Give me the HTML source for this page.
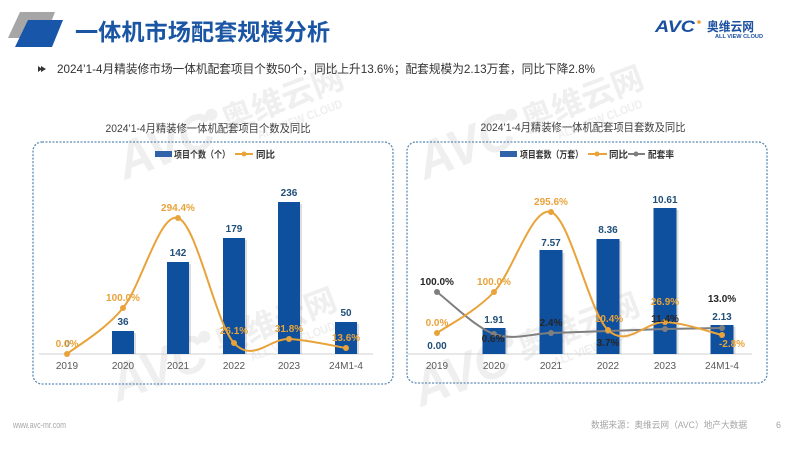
<!DOCTYPE html>
<html><head><meta charset="utf-8">
<style>
html,body{margin:0;padding:0;background:#fff;}
svg{display:block;}
text{font-family:"Liberation Sans","Noto Sans CJK SC",sans-serif;}
</style></head>
<body>
<svg width="800" height="450" viewBox="0 0 800 450" xmlns="http://www.w3.org/2000/svg">
<rect width="800" height="450" fill="#ffffff"/>

<!-- watermarks -->
<defs>
<g id="wm">
  <text x="0" y="0" font-size="52" font-weight="bold" font-style="italic" fill="#c4c4c4" textLength="100" lengthAdjust="spacingAndGlyphs">AVC</text>
  <circle cx="104" cy="-30" r="6" fill="#c4c4c4"/>
  <text x="112" y="-8" font-size="32" font-weight="bold" fill="#c4c4c4" textLength="128" lengthAdjust="spacingAndGlyphs">奥维云网</text>
  <text x="140" y="10" font-size="12" font-weight="bold" fill="#c4c4c4" textLength="90" lengthAdjust="spacingAndGlyphs">ALL VIEW CLOUD</text>
</g>
</defs>
<g opacity="0.28">
  <use href="#wm" transform="translate(125,180) rotate(-21)"/>
  <use href="#wm" transform="translate(118,402) rotate(-21)"/>
  <use href="#wm" transform="translate(425,180) rotate(-21)"/>
  <use href="#wm" transform="translate(421,407) rotate(-21)"/>
</g>

<!-- header -->
<polygon points="20,12 55,12 45,38 8,38" fill="#a6a6a6"/>
<polygon points="28,20 63,20 52,47 15,47" fill="#1756a9"/>
<text x="75" y="40" font-size="23" font-weight="bold" fill="#1b56a5" textLength="255" lengthAdjust="spacingAndGlyphs">一体机市场配套规模分析</text>

<!-- logo -->
<text x="655" y="32" font-size="17" font-weight="bold" font-style="italic" fill="#1b4fa0" textLength="40" lengthAdjust="spacingAndGlyphs">AVC</text>
<circle cx="699" cy="22" r="1.8" fill="#f0a030"/>
<text x="707" y="31" font-size="12.5" font-weight="bold" fill="#1b4fa0" textLength="47" lengthAdjust="spacingAndGlyphs">奥维云网</text>
<text x="715" y="38" font-size="5.5" font-weight="bold" fill="#1b4fa0" textLength="48" lengthAdjust="spacingAndGlyphs">ALL VIEW CLOUD</text>

<!-- bullet line -->
<polygon points="38,66 42,69 38,72" fill="#333"/>
<polygon points="41,66 46,69 41,72" fill="#333"/>
<text x="57" y="73" font-size="12" fill="#333" textLength="538" lengthAdjust="spacingAndGlyphs">2024’1-4月精装修市场一体机配套项目个数50个，同比上升13.6%；配套规模为2.13万套，同比下降2.8%</text>

<!-- ============ LEFT CHART ============ -->
<text x="208" y="132" font-size="11" fill="#404040" text-anchor="middle" textLength="205" lengthAdjust="spacingAndGlyphs">2024’1-4月精装修一体机配套项目个数及同比</text>
<rect x="33" y="142" width="360" height="242" rx="9" ry="9" fill="none" stroke="#5b8bb5" stroke-width="1.3" stroke-dasharray="2,1.5"/>

<!-- legend -->
<rect x="155" y="151" width="17" height="6" fill="#2f62a8"/>
<text x="174" y="158" font-size="9.5" font-weight="bold" fill="#333" textLength="56" lengthAdjust="spacingAndGlyphs">项目个数（个）</text>
<line x1="235" y1="154" x2="253" y2="154" stroke="#e8a33a" stroke-width="2"/>
<circle cx="244" cy="154" r="2.5" fill="#e8a33a"/>
<text x="256" y="158" font-size="9.5" font-weight="bold" fill="#333">同比</text>

<!-- axis -->
<line x1="39" y1="354" x2="373" y2="354" stroke="#d0d0d0" stroke-width="1"/>

<!-- bars -->
<g fill="#000" opacity="0.13">
  <rect x="114" y="333" width="22" height="21"/>
  <rect x="169" y="264" width="22" height="90"/>
  <rect x="225" y="240" width="22" height="114"/>
  <rect x="280" y="204" width="22" height="150"/>
  <rect x="337" y="324" width="22" height="30"/>
</g>
<g fill="#0e4f9e">
  <rect x="112" y="331" width="22" height="23"/>
  <rect x="167" y="262" width="22" height="92"/>
  <rect x="223" y="238" width="22" height="116"/>
  <rect x="278" y="202" width="22" height="152"/>
  <rect x="335" y="322" width="22" height="32"/>
</g>

<!-- category labels -->
<g font-size="10" fill="#595959" text-anchor="middle">
  <text x="67" y="369">2019</text>
  <text x="123" y="369">2020</text>
  <text x="178" y="369">2021</text>
  <text x="234" y="369">2022</text>
  <text x="289" y="369">2023</text>
  <text x="346" y="369">24M1-4</text>
</g>

<!-- bar value labels -->
<g font-size="10" font-weight="bold" fill="#1f4e79" text-anchor="middle">
  <text x="67" y="347">0</text>
  <text x="123" y="325">36</text>
  <text x="178" y="256">142</text>
  <text x="234" y="232">179</text>
  <text x="289" y="196">236</text>
  <text x="346" y="316">50</text>
</g>

<!-- orange line -->
<path d="M67,354 C76.3,346.3 104.5,330.7 123,308 C141.5,285.3 159.5,212.2 178,218 C196.5,223.8 215.5,322.8 234,343 C252.5,363.2 270.3,338.2 289,339 C307.7,339.8 336.5,346.5 346,348" fill="none" stroke="#e8a33a" stroke-width="2"/>
<g fill="#e8a33a">
  <circle cx="67" cy="354" r="3"/>
  <circle cx="123" cy="308" r="3"/>
  <circle cx="178" cy="218" r="3"/>
  <circle cx="234" cy="343" r="3"/>
  <circle cx="289" cy="339" r="3"/>
  <circle cx="346" cy="348" r="3"/>
</g>
<g font-size="10" font-weight="bold" fill="#e8a33a" text-anchor="middle">
  <text x="67" y="347">0.0%</text>
  <text x="123" y="301">100.0%</text>
  <text x="178" y="211">294.4%</text>
  <text x="234" y="334">26.1%</text>
  <text x="289" y="332">31.8%</text>
  <text x="346" y="341">13.6%</text>
</g>

<!-- ============ RIGHT CHART ============ -->
<text x="583" y="131" font-size="11" fill="#404040" text-anchor="middle" textLength="205" lengthAdjust="spacingAndGlyphs">2024’1-4月精装修一体机配套项目套数及同比</text>
<rect x="407" y="142" width="360" height="241" rx="9" ry="9" fill="none" stroke="#5b8bb5" stroke-width="1.3" stroke-dasharray="2,1.5"/>

<!-- legend -->
<rect x="500" y="151" width="17" height="6" fill="#2f62a8"/>
<text x="520" y="158" font-size="9.5" font-weight="bold" fill="#333" textLength="63" lengthAdjust="spacingAndGlyphs">项目套数（万套）</text>
<line x1="588" y1="154" x2="607" y2="154" stroke="#e8a33a" stroke-width="2"/>
<circle cx="597" cy="154" r="2.5" fill="#e8a33a"/>
<text x="609" y="158" font-size="9.5" font-weight="bold" fill="#333">同比</text>
<line x1="628" y1="154" x2="645" y2="154" stroke="#7f7f7f" stroke-width="2"/>
<circle cx="636" cy="154" r="2.5" fill="#7f7f7f"/>
<text x="648" y="158" font-size="9.5" font-weight="bold" fill="#333" textLength="26" lengthAdjust="spacingAndGlyphs">配套率</text>

<!-- axis -->
<line x1="408" y1="354" x2="752" y2="354" stroke="#d0d0d0" stroke-width="1"/>

<!-- bars -->
<g fill="#000" opacity="0.13">
  <rect x="484.5" y="330" width="23" height="24"/>
  <rect x="541.5" y="253" width="23" height="101"/>
  <rect x="598.5" y="241" width="23" height="113"/>
  <rect x="655.5" y="210" width="23" height="144"/>
  <rect x="712.5" y="327" width="23" height="27"/>
</g>
<g fill="#0e4f9e">
  <rect x="482.5" y="328" width="23" height="26"/>
  <rect x="539.5" y="250" width="23" height="104"/>
  <rect x="596.5" y="239" width="23" height="115"/>
  <rect x="653.5" y="208" width="23" height="146"/>
  <rect x="710.5" y="325" width="23" height="29"/>
</g>

<!-- category labels -->
<g font-size="10" fill="#595959" text-anchor="middle">
  <text x="437" y="369">2019</text>
  <text x="494" y="369">2020</text>
  <text x="551" y="369">2021</text>
  <text x="608" y="369">2022</text>
  <text x="665" y="369">2023</text>
  <text x="722" y="369">24M1-4</text>
</g>

<!-- bar value labels -->
<g font-size="10" font-weight="bold" fill="#1f4e79" text-anchor="middle">
  <text x="437" y="349">0.00</text>
  <text x="494" y="323">1.91</text>
  <text x="551" y="246">7.57</text>
  <text x="608" y="233">8.36</text>
  <text x="665" y="203">10.61</text>
  <text x="722" y="320">2.13</text>
</g>

<!-- gray line -->
<path d="M437,292 C446.5,299 475,327.2 494,334 C513,340.8 532,333.5 551,333 C570,332.5 589,331.7 608,331 C627,330.3 646,329.5 665,329 C684,328.5 712.5,328.2 722,328" fill="none" stroke="#7f7f7f" stroke-width="2"/>
<g fill="#7f7f7f">
  <circle cx="437" cy="292" r="3"/>
  <circle cx="494" cy="334" r="3"/>
  <circle cx="551" cy="333" r="3"/>
  <circle cx="608" cy="331" r="3"/>
  <circle cx="665" cy="329" r="3"/>
  <circle cx="722" cy="328" r="3"/>
</g>

<!-- orange line -->
<path d="M437,333 C446.5,326.2 475,312.2 494,292 C513,271.8 532,205.7 551,212 C570,218.3 589,311.7 608,330 C627,348.3 646,321.2 665,322 C684,322.8 712.5,332.8 722,335" fill="none" stroke="#e8a33a" stroke-width="2"/>
<g fill="#e8a33a">
  <circle cx="437" cy="333" r="3"/>
  <circle cx="494" cy="292" r="3"/>
  <circle cx="551" cy="212" r="3"/>
  <circle cx="608" cy="330" r="3"/>
  <circle cx="665" cy="322" r="3"/>
  <circle cx="722" cy="335" r="3"/>
</g>

<!-- orange labels -->
<g font-size="10" font-weight="bold" fill="#e8a33a" text-anchor="middle">
  <text x="437" y="326">0.0%</text>
  <text x="494" y="285">100.0%</text>
  <text x="551" y="205">295.6%</text>
  <text x="609" y="322">10.4%</text>
  <text x="665" y="305">26.9%</text>
  <text x="732" y="347">-2.8%</text>
</g>
<!-- gray labels -->
<g font-size="10" font-weight="bold" fill="#262626" text-anchor="middle">
  <text x="437" y="285">100.0%</text>
  <text x="493" y="342">0.6%</text>
  <text x="551" y="326">2.4%</text>
  <text x="608" y="346">3.7%</text>
  <text x="665" y="322">11.4%</text>
  <text x="722" y="302">13.0%</text>
</g>

<!-- footer -->
<text x="13" y="428" font-size="9" fill="#a6a6a6" textLength="53" lengthAdjust="spacingAndGlyphs">www.avc-mr.com</text>
<text x="591" y="428" font-size="9" fill="#a6a6a6" textLength="156" lengthAdjust="spacingAndGlyphs">数据来源：奥维云网（AVC）地产大数据</text>
<text x="776" y="428" font-size="9" fill="#a6a6a6">6</text>
</svg>
</body></html>
